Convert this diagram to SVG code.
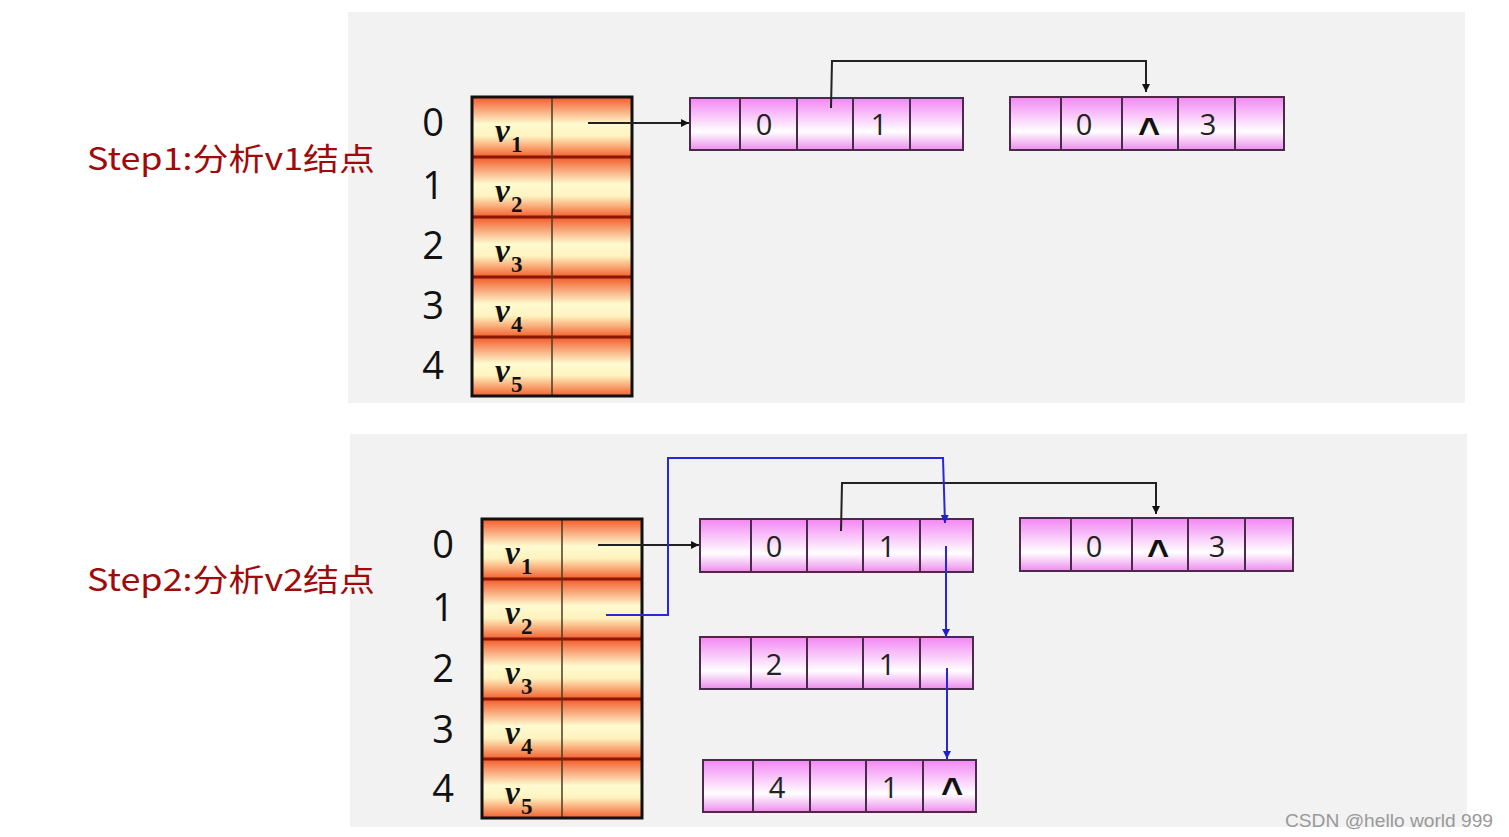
<svg xmlns="http://www.w3.org/2000/svg" width="1509" height="837" viewBox="0 0 1509 837">
<defs>
<linearGradient id="org" x1="0" y1="0" x2="0" y2="1">
<stop offset="0" stop-color="#f35a2a"/>
<stop offset="0.45" stop-color="#fffad0"/>
<stop offset="0.65" stop-color="#fff4c0"/>
<stop offset="1" stop-color="#f3602e"/>
</linearGradient>
<linearGradient id="pnk" x1="0" y1="0" x2="0" y2="1">
<stop offset="0" stop-color="#f386f3"/>
<stop offset="0.65" stop-color="#ffffff"/>
<stop offset="1" stop-color="#ec8cec"/>
</linearGradient>
<marker id="ak" viewBox="0 0 10 10" refX="10" refY="5" markerWidth="8" markerHeight="8" markerUnits="userSpaceOnUse" orient="auto"><path d="M0,0 L10,5 L0,10 z" fill="#111"/></marker>
<marker id="ab" viewBox="0 0 10 10" refX="10" refY="5" markerWidth="8" markerHeight="8" markerUnits="userSpaceOnUse" orient="auto"><path d="M0,0 L10,5 L0,10 z" fill="#2020d0"/></marker>
</defs>
<style>
.panel{fill:#f2f2f2}
.cell{fill:url(#org);stroke:none}
.rowline{stroke:#8a1800;stroke-width:3}
.coldiv{stroke:#4a3a20;stroke-width:1.5}
.outer{fill:none;stroke:#111;stroke-width:3}
.idx{font-family:"Open Sans","Noto Sans",sans-serif;font-size:38px;fill:#111;text-anchor:middle}
.v{font-family:"Liberation Serif",serif;font-style:italic;font-weight:bold;font-size:33px;fill:#111}
.vs{font-family:"Liberation Serif",serif;font-weight:bold;font-size:23px;fill:#111}
.node{fill:url(#pnk);stroke:#4a2a4a;stroke-width:2}
.nd{stroke:#4a2a4a;stroke-width:2}
.nt{font-family:"Open Sans","Noto Sans",sans-serif;font-size:29px;fill:#222;text-anchor:middle}
.hat{font-family:"Liberation Sans",sans-serif;font-size:38px;font-weight:bold;fill:#111;text-anchor:middle}
.step{font-family:"Noto Sans CJK SC",sans-serif;font-size:31px;fill:#a00a0a}
.k{fill:none;stroke:#222;stroke-width:2}
.b{fill:none;stroke:#2828d8;stroke-width:2}
.wm{font-family:"Liberation Sans",sans-serif;font-size:19px;fill:#999}
</style>
<rect width="1509" height="837" fill="#ffffff"/>
<rect class="panel" x="348" y="12" width="1117" height="391"/>
<rect class="panel" x="350" y="434" width="1117" height="393"/>

<text class="step" x="87" y="170" textLength="288" lengthAdjust="spacingAndGlyphs">Step1:分析v1结点</text>
<text class="step" x="87" y="591" textLength="288" lengthAdjust="spacingAndGlyphs">Step2:分析v2结点</text>

<g id="table1">
<rect class="cell" x="472" y="97" width="160" height="60"/>
<rect class="cell" x="472" y="157" width="160" height="60"/>
<rect class="cell" x="472" y="217" width="160" height="60"/>
<rect class="cell" x="472" y="277" width="160" height="60"/>
<rect class="cell" x="472" y="337" width="160" height="59"/>
<line class="rowline" x1="472" y1="157" x2="632" y2="157"/>
<line class="rowline" x1="472" y1="217" x2="632" y2="217"/>
<line class="rowline" x1="472" y1="277" x2="632" y2="277"/>
<line class="rowline" x1="472" y1="337" x2="632" y2="337"/>
<line class="coldiv" x1="552" y1="97" x2="552" y2="396"/>
<rect class="outer" x="472" y="97" width="160" height="299"/>
<text class="v" x="495" y="142">v</text><text class="vs" x="511" y="152">1</text>
<text class="v" x="495" y="202">v</text><text class="vs" x="511" y="212">2</text>
<text class="v" x="495" y="262">v</text><text class="vs" x="511" y="272">3</text>
<text class="v" x="495" y="322">v</text><text class="vs" x="511" y="332">4</text>
<text class="v" x="495" y="382">v</text><text class="vs" x="511" y="392">5</text>
<text class="idx" x="433" y="136">0</text>
<text class="idx" x="433" y="199">1</text>
<text class="idx" x="433" y="259">2</text>
<text class="idx" x="433" y="319">3</text>
<text class="idx" x="433" y="379">4</text>
</g>

<g id="n1a">
<rect class="node" x="690" y="98" width="273" height="52"/>
<line class="nd" x1="740" y1="98" x2="740" y2="150"/>
<line class="nd" x1="797" y1="98" x2="797" y2="150"/>
<line class="nd" x1="853" y1="98" x2="853" y2="150"/>
<line class="nd" x1="910" y1="98" x2="910" y2="150"/>
<text class="nt" x="764" y="135">0</text>
<text class="nt" x="879" y="135">1</text>
</g>
<g id="n1b">
<rect class="node" x="1010" y="97" width="274" height="53"/>
<line class="nd" x1="1061" y1="97" x2="1061" y2="150"/>
<line class="nd" x1="1122" y1="97" x2="1122" y2="150"/>
<line class="nd" x1="1178" y1="97" x2="1178" y2="150"/>
<line class="nd" x1="1235" y1="97" x2="1235" y2="150"/>
<text class="nt" x="1084" y="135">0</text>
<text class="hat" x="1149" y="145">^</text>
<text class="nt" x="1208" y="135">3</text>
</g>

<g id="table2">
<rect class="cell" x="482" y="519" width="160" height="60"/>
<rect class="cell" x="482" y="579" width="160" height="60"/>
<rect class="cell" x="482" y="639" width="160" height="60"/>
<rect class="cell" x="482" y="699" width="160" height="60"/>
<rect class="cell" x="482" y="759" width="160" height="59"/>
<line class="rowline" x1="482" y1="579" x2="642" y2="579"/>
<line class="rowline" x1="482" y1="639" x2="642" y2="639"/>
<line class="rowline" x1="482" y1="699" x2="642" y2="699"/>
<line class="rowline" x1="482" y1="759" x2="642" y2="759"/>
<line class="coldiv" x1="562" y1="519" x2="562" y2="818"/>
<rect class="outer" x="482" y="519" width="160" height="299"/>
<text class="v" x="505" y="564">v</text><text class="vs" x="521" y="574">1</text>
<text class="v" x="505" y="624">v</text><text class="vs" x="521" y="634">2</text>
<text class="v" x="505" y="684">v</text><text class="vs" x="521" y="694">3</text>
<text class="v" x="505" y="744">v</text><text class="vs" x="521" y="754">4</text>
<text class="v" x="505" y="804">v</text><text class="vs" x="521" y="814">5</text>
<text class="idx" x="443" y="558">0</text>
<text class="idx" x="443" y="621">1</text>
<text class="idx" x="443" y="682">2</text>
<text class="idx" x="443" y="743">3</text>
<text class="idx" x="443" y="802">4</text>
</g>

<g id="n2a">
<rect class="node" x="700" y="519" width="273" height="53"/>
<line class="nd" x1="751" y1="519" x2="751" y2="572"/>
<line class="nd" x1="807" y1="519" x2="807" y2="572"/>
<line class="nd" x1="863" y1="519" x2="863" y2="572"/>
<line class="nd" x1="920" y1="519" x2="920" y2="572"/>
<text class="nt" x="774" y="557">0</text>
<text class="nt" x="887" y="557">1</text>
</g>
<g id="n2b">
<rect class="node" x="1020" y="518" width="273" height="53"/>
<line class="nd" x1="1071" y1="518" x2="1071" y2="571"/>
<line class="nd" x1="1132" y1="518" x2="1132" y2="571"/>
<line class="nd" x1="1188" y1="518" x2="1188" y2="571"/>
<line class="nd" x1="1245" y1="518" x2="1245" y2="571"/>
<text class="nt" x="1094" y="557">0</text>
<text class="hat" x="1158" y="567">^</text>
<text class="nt" x="1217" y="557">3</text>
</g>
<g id="n2c">
<rect class="node" x="700" y="637" width="273" height="52"/>
<line class="nd" x1="751" y1="637" x2="751" y2="689"/>
<line class="nd" x1="807" y1="637" x2="807" y2="689"/>
<line class="nd" x1="863" y1="637" x2="863" y2="689"/>
<line class="nd" x1="920" y1="637" x2="920" y2="689"/>
<text class="nt" x="774" y="675">2</text>
<text class="nt" x="887" y="675">1</text>
</g>
<g id="n2d">
<rect class="node" x="703" y="760" width="273" height="52"/>
<line class="nd" x1="753" y1="760" x2="753" y2="812"/>
<line class="nd" x1="810" y1="760" x2="810" y2="812"/>
<line class="nd" x1="866" y1="760" x2="866" y2="812"/>
<line class="nd" x1="923" y1="760" x2="923" y2="812"/>
<text class="nt" x="777" y="798">4</text>
<text class="nt" x="890" y="798">1</text>
<text class="hat" x="952" y="805">^</text>
</g>

<g id="connectors">
<path class="k" d="M588,123 L689,123" marker-end="url(#ak)"/>
<path class="k" d="M831,108 L832,61 L1146,61 L1146,92" marker-end="url(#ak)"/>
<path class="k" d="M598,545 L699,545" marker-end="url(#ak)"/>
<path class="k" d="M841,531 L842,483 L1156,483 L1156,514" marker-end="url(#ak)"/>
<path class="b" d="M606,615 L668,615 L668,458 L943,458 L945,523" marker-end="url(#ab)"/>
<path class="b" d="M946,546 L946,637" marker-end="url(#ab)"/>
<path class="b" d="M947,668 L947,759" marker-end="url(#ab)"/>
</g>

<text class="wm" x="1285" y="827" textLength="208" lengthAdjust="spacingAndGlyphs">CSDN @hello world 999</text>
</svg>
